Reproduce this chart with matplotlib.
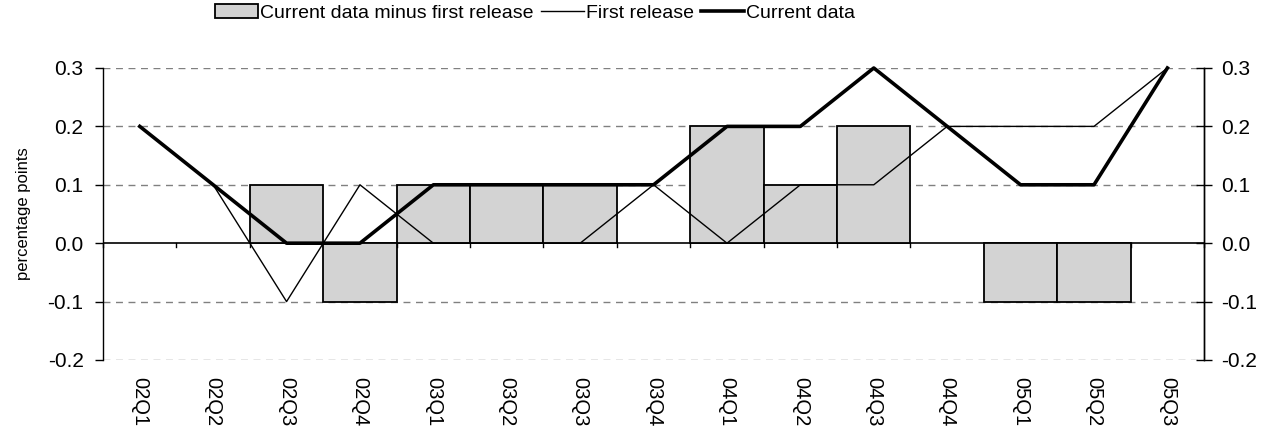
import matplotlib.pyplot as plt
import numpy as np
from matplotlib.legend_handler import HandlerPatch
from matplotlib.patches import Rectangle

plt.rcParams['font.family'] = ['Liberation Sans', 'DejaVu Sans']

quarters = ["02Q1", "02Q2", "02Q3", "02Q4", "03Q1", "03Q2", "03Q3", "03Q4",
            "04Q1", "04Q2", "04Q3", "04Q4", "05Q1", "05Q2", "05Q3"]
first_release = [0.2, 0.1, -0.1, 0.1, 0.0, 0.0, 0.0, 0.1,
                 0.0, 0.1, 0.1, 0.2, 0.2, 0.2, 0.3]
current_data = [0.2, 0.1, 0.0, 0.0, 0.1, 0.1, 0.1, 0.1,
                0.2, 0.2, 0.3, 0.2, 0.1, 0.1, 0.3]
revision = [0.0, 0.0, 0.1, -0.1, 0.1, 0.1, 0.1, 0.0,
            0.2, 0.1, 0.2, 0.0, -0.1, -0.1, 0.0]


def flat_box(legend, orig_handle, xdescent, ydescent, width, height, fontsize):
    # wide, short swatch for the bar series
    extra = 0.45 * width
    return Rectangle((-xdescent - extra, -ydescent + 0.2 * height),
                     width + extra, 0.6 * height)


fig = plt.figure(figsize=(12.66, 4.32), dpi=100)
ax = fig.add_axes([0.0814, 0.1667, 0.8697, 0.6759])

x = np.arange(len(quarters))
nonzero = [i for i, v in enumerate(revision) if v != 0]
bars = ax.bar([x[i] for i in nonzero], [revision[i] for i in nonzero], width=1.0,
              color="#d3d3d3", edgecolor="black", linewidth=1.3, zorder=2)
line_first, = ax.plot(x, first_release, color="black", linewidth=1.0, zorder=3,
                      clip_on=False)
line_current, = ax.plot(x, current_data, color="black", linewidth=2.6, zorder=4,
                        clip_on=False)

ax.set_xlim(-0.5, len(quarters) - 0.5)
ax.set_ylim(-0.2, 0.3)
yticks = [-0.2, -0.1, 0.0, 0.1, 0.2, 0.3]
ax.set_yticks(yticks)
ax.set_yticklabels([f"{v:.1f}" for v in yticks], fontsize=15)
for v in yticks:
    if v != 0.0:
        ax.axhline(v, color="#808080", linewidth=1.0, linestyle=(0, (5, 4)), zorder=1)
ax.axhline(0.0, color="black", linewidth=1.2, zorder=1.5)

# category boundary ticks hang off the zero line
for b in np.arange(-0.5, len(quarters) + 0.5, 1.0):
    ax.plot([b, b], [0.0, -0.007], color="black", linewidth=1.0, zorder=1.5,
            clip_on=False)

for side in ["top", "bottom"]:
    ax.spines[side].set_visible(False)
for side in ["left", "right"]:
    ax.spines[side].set_color("black")
    ax.spines[side].set_linewidth(1.0)

ax.set_xticks(x)
ax.set_xticklabels(quarters, rotation=-90, fontsize=14.5)
ax.tick_params(axis="x", length=0, pad=12)
ax.tick_params(axis="y", direction="out", length=6, width=1.0, pad=8)

ax_r = ax.twinx()
ax_r.set_ylim(ax.get_ylim())
ax_r.set_yticks(yticks)
ax_r.set_yticklabels([f"{v:.1f}" for v in yticks], fontsize=15)
ax_r.tick_params(axis="y", direction="inout", length=11, width=1.0, pad=7)
for side in ["top", "bottom", "left"]:
    ax_r.spines[side].set_visible(False)
ax_r.spines["right"].set_linewidth(1.0)

ax.set_ylabel("percentage points", fontsize=12, labelpad=12)

fig.legend([bars, line_first, line_current],
           ["Current data minus first release", "First release", "Current data"],
           loc="center", bbox_to_anchor=(535 / 1266, 1 - 13 / 432), ncol=3,
           frameon=False, fontsize=14, handlelength=2.2, handletextpad=0.1,
           columnspacing=0.4,
           handler_map={type(bars.patches[0]): HandlerPatch(patch_func=flat_box)})

fig.savefig("out.png", dpi=100)
plt.close(fig)
